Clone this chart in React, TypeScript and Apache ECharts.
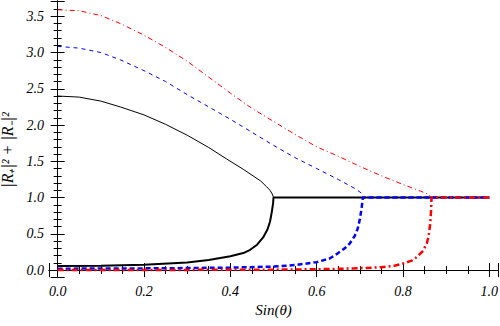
import React, { useEffect, useRef } from "react";
import * as echarts from "echarts";

const xMin = -0.02;
const xMax = 1.02;
const yMin = -0.095;
const yMax = 3.71;

const xAxisTitle = "Sin(θ)";
const yAxisTitle = "|R₊|² + |R₋|²";

const blackUpper = [
  [0, 2.4], [0.05, 2.385], [0.1, 2.33], [0.145, 2.25], [0.2, 2.14], [0.25, 2.01],
  [0.3, 1.86], [0.35, 1.69], [0.392, 1.53], [0.43, 1.39], [0.455, 1.29], [0.47, 1.23],
  [0.484, 1.15], [0.492, 1.1], [0.497, 1.05], [0.5, 1.0],
];
const blackLower = [
  [0, 0.055], [0.1, 0.06], [0.2, 0.075], [0.3, 0.105], [0.35, 0.14], [0.4, 0.19],
  [0.43, 0.235], [0.446, 0.28], [0.462, 0.35], [0.476, 0.45], [0.486, 0.56],
  [0.492, 0.67], [0.496, 0.8], [0.499, 0.92], [0.5, 1.0], [1.0, 1.0],
];
const blueUpper = [
  [0, 3.085], [0.05, 3.06], [0.1, 3.0], [0.145, 2.9], [0.2, 2.75], [0.25, 2.6],
  [0.3, 2.42], [0.35, 2.25], [0.4, 2.08], [0.45, 1.9], [0.5, 1.72], [0.55, 1.55],
  [0.6, 1.4], [0.65, 1.25], [0.69, 1.12], [0.704, 1.06], [0.707, 1.0],
];
const blueLower = [
  [0, 0.02], [0.1, 0.021], [0.2, 0.024], [0.3, 0.028], [0.4, 0.035], [0.5, 0.048],
  [0.55, 0.07], [0.6, 0.11], [0.63, 0.16], [0.646, 0.22], [0.665, 0.3], [0.677, 0.37],
  [0.688, 0.47], [0.695, 0.57], [0.7, 0.7], [0.704, 0.85], [0.707, 1.0], [1.0, 1.0],
];
const redUpper = [
  [0, 3.59], [0.05, 3.575], [0.1, 3.51], [0.145, 3.4], [0.2, 3.24], [0.25, 3.07],
  [0.3, 2.88], [0.35, 2.66], [0.4, 2.44], [0.45, 2.23], [0.5, 2.05], [0.55, 1.87],
  [0.6, 1.7], [0.65, 1.57], [0.7, 1.43], [0.75, 1.3], [0.8, 1.18], [0.84, 1.09],
  [0.86, 1.04], [0.866, 1.0],
];
const redLower = [
  [0, 0.0], [0.2, 0.002], [0.4, 0.004], [0.5, 0.006], [0.6, 0.012], [0.65, 0.018],
  [0.7, 0.027], [0.75, 0.04], [0.78, 0.06], [0.8, 0.09], [0.82, 0.13], [0.832, 0.18],
  [0.847, 0.27], [0.855, 0.37], [0.859, 0.46], [0.863, 0.64], [0.865, 0.82],
  [0.866, 1.0], [1.0, 1.0],
];

const FONT = "Liberation Serif";

export default function App() {
  const ref = useRef<HTMLDivElement>(null);
  useEffect(() => {
    if (!ref.current) return;
    const chart = echarts.init(ref.current, null, { renderer: "svg" });
    const labelStyle = {
      fontFamily: FONT,
      fontStyle: "italic" as const,
      fontSize: 14,
      color: "#000",
    };
    const baseAxis = (splitNumber: number, minor: number) => ({
      type: "value" as const,
      splitNumber,
      axisLine: { show: true, lineStyle: { color: "#000", width: 1 } },
      axisTick: { show: true, inside: true, length: 7, lineStyle: { color: "#000", width: 1 } },
      minorTick: { show: true, splitNumber: minor, length: 4, lineStyle: { color: "#000", width: 1 } },
      splitLine: { show: false },
      minorSplitLine: { show: false },
    });
    const line = (data: number[][], color: string, width: number, type: any, z: number) => ({
      type: "line" as const,
      data,
      showSymbol: false,
      symbol: "none",
      z,
      lineStyle: { color, width, type, cap: "butt" },
      xAxisIndex: 0,
      yAxisIndex: 0,
    });
    chart.setOption({
      animation: false,
      grid: { left: 49, right: 2, top: 1, bottom: 49, containLabel: false, outerBoundsMode: "none" },
      xAxis: [
        {
          ...baseAxis(5, 4),
          min: xMin,
          max: xMax,
          position: "bottom",
          name: xAxisTitle,
          nameLocation: "middle",
          nameGap: 22,
          nameTextStyle: { ...labelStyle, fontSize: 15 },
          axisLabel: {
            ...labelStyle,
            margin: 7,
            showMinLabel: false,
            showMaxLabel: false,
            formatter: (v: number) => v.toFixed(1),
          },
        },
        {
          ...baseAxis(5, 4),
          min: xMin,
          max: xMax,
          position: "top",
          axisLabel: { show: false },
        },
      ],
      yAxis: [
        {
          ...baseAxis(7, 5),
          min: yMin,
          max: yMax,
          position: "left",
          name: yAxisTitle,
          nameLocation: "middle",
          nameGap: 28,
          nameTextStyle: { ...labelStyle, fontSize: 16, lineHeight: 16, padding: [0, 22, 0, 0] },
          axisLabel: {
            ...labelStyle,
            margin: 5,
            showMinLabel: false,
            showMaxLabel: false,
            formatter: (v: number) => v.toFixed(1),
          },
        },
        {
          ...baseAxis(7, 5),
          min: yMin,
          max: yMax,
          position: "right",
          axisLabel: { show: false },
        },
      ],
      series: [
        line(blackUpper, "#000", 1, "solid", 2),
        line(blackLower, "#000", 2, "solid", 2),
        line(blueUpper, "#0000ff", 1, [4, 4], 3),
        line(blueLower, "#0000ff", 2.5, [5, 3], 3),
        line(redUpper, "#ff0000", 1, [5, 3, 1, 3], 4),
        line(redLower, "#ff0000", 2.5, [6, 3, 2, 3], 4),
      ],
    });
    return () => chart.dispose();
  }, []);
  return (
    <div
      ref={ref}
      style={{ position: "absolute", left: 0, top: 0, width: 500, height: 326, background: "#fff" }}
    />
  );
}
